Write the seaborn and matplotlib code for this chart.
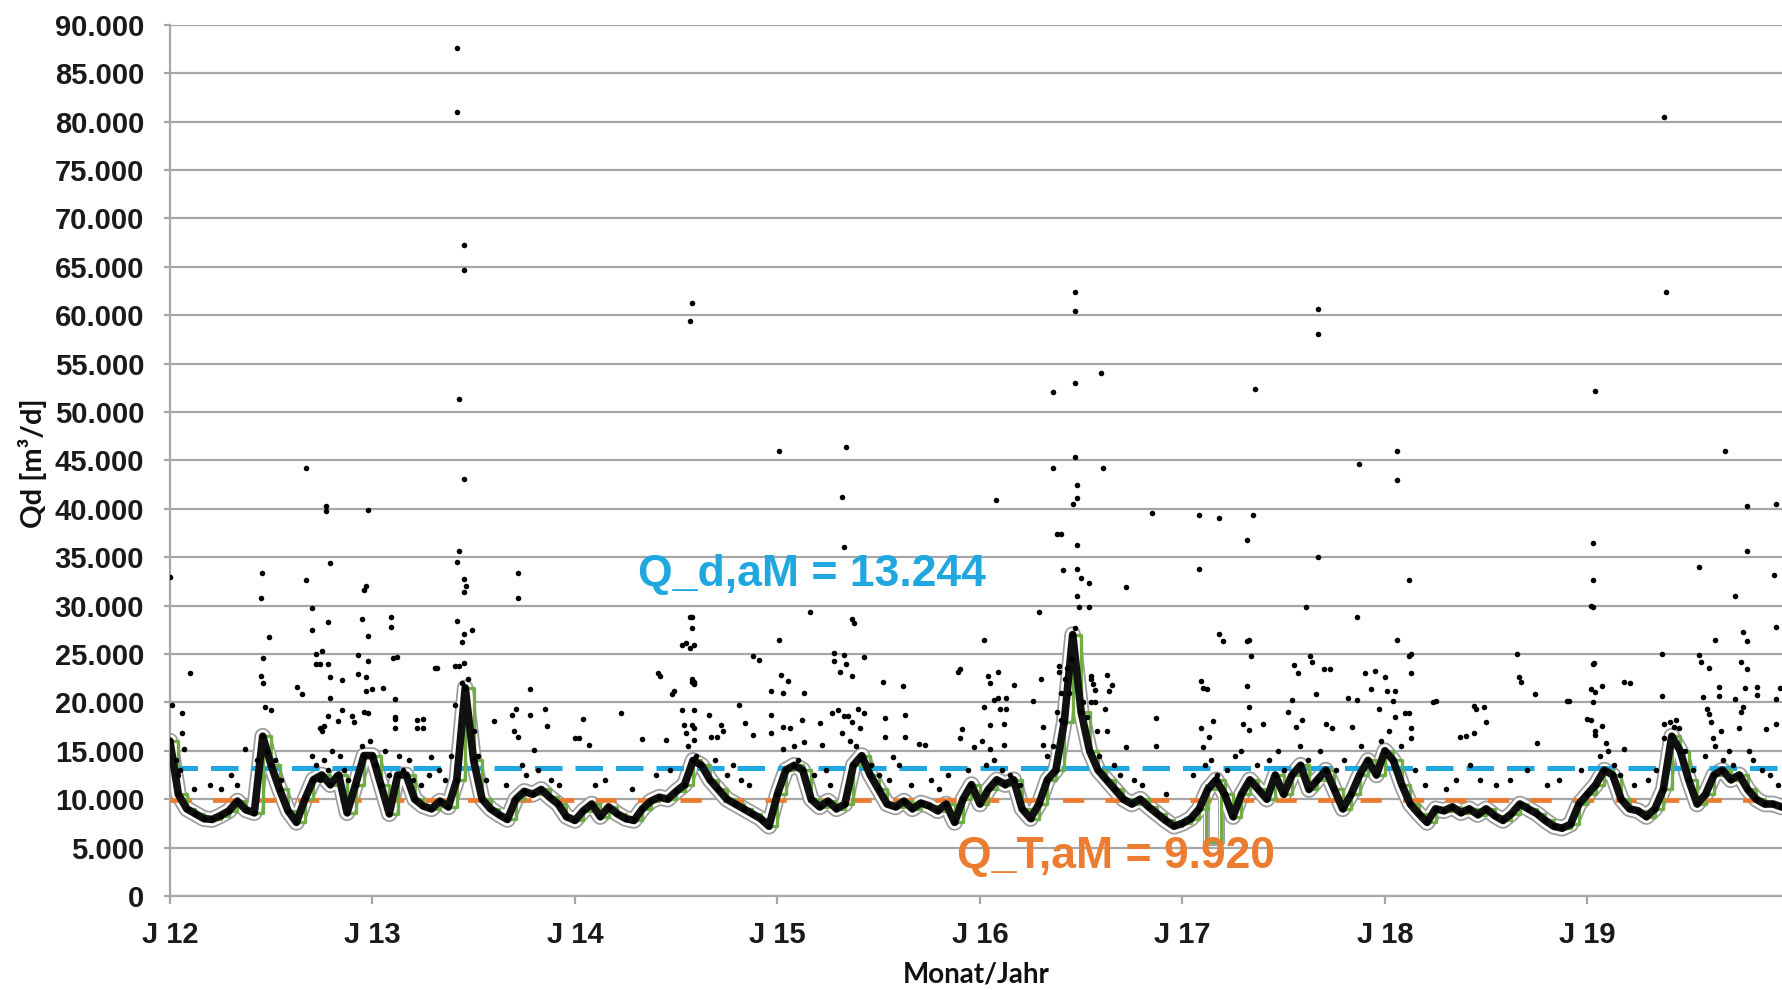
import numpy as np
import pandas as pd
import matplotlib
matplotlib.use('Agg')
import matplotlib.pyplot as plt
import seaborn as sns
from matplotlib.ticker import FuncFormatter, FixedLocator

# base flow band, read at half-month steps (1000 m3/d)
base_12 = [16.0, 10.5, 9.0, 8.5, 8.0, 7.9, 8.3, 8.8, 9.8, 8.9, 8.6, 16.5,
           13.5, 11.0, 8.8, 7.6, 10.0, 12.0, 12.5, 11.5, 12.5, 8.6, 11.5, 14.5]
base_13 = [14.5, 11.5, 8.5, 12.5, 12.5, 10.0, 9.3, 9.0, 9.8, 9.2, 12.0, 21.5,
           14.0, 10.0, 9.0, 8.4, 7.9, 10.0, 10.8, 10.5, 11.0, 10.2, 9.5, 8.2]
base_14 = [7.8, 8.8, 9.5, 8.2, 9.2, 8.5, 8.0, 7.8, 9.0, 9.8, 10.2, 10.0,
           10.8, 11.5, 14.0, 13.5, 12.0, 11.0, 10.0, 9.5, 9.0, 8.5, 8.0, 7.2]
base_15 = [10.5, 13.0, 13.5, 13.0, 10.0, 9.2, 9.8, 9.0, 9.5, 13.5, 14.5, 12.5,
           11.0, 9.5, 9.2, 9.8, 9.0, 9.6, 9.3, 8.8, 9.5, 7.6, 10.0, 11.5]
base_16 = [9.5, 11.0, 12.0, 11.5, 12.0, 9.0, 8.0, 9.5, 12.0, 13.0, 18.0, 27.0,
           19.0, 15.0, 13.0, 12.0, 11.0, 10.0, 9.5, 10.0, 9.2, 8.5, 7.8, 7.2]
base_17 = [7.5, 8.0, 9.0, 11.0, 12.0, 10.5, 8.2, 10.5, 12.0, 11.0, 10.0, 12.5,
           10.5, 12.5, 13.5, 11.0, 12.0, 13.0, 11.0, 9.0, 10.5, 12.5, 14.0, 12.5]
base_18 = [15.0, 14.0, 11.5, 9.5, 8.5, 7.6, 9.0, 8.8, 9.2, 8.6, 9.0, 8.4,
           9.0, 8.3, 7.8, 8.5, 9.5, 9.0, 8.5, 7.8, 7.2, 7.0, 7.4, 9.5]
base_19 = [10.5, 11.5, 13.0, 12.5, 10.0, 9.0, 8.8, 8.2, 9.0, 11.0, 16.5, 15.0,
           12.0, 9.5, 10.5, 12.5, 13.0, 12.0, 12.5, 11.0, 10.0, 9.5, 9.5, 9.2]

# green step line drop in early 2017
dip_years = [2017.115, 2017.115, 2017.19, 2017.19]
dip_k = [11.5, 5.6, 5.6, 11.5]

# single days above the band (decimal year, 1000 m3/d)
out_12 = [(2012.00, 33.0), (2012.01, 19.7), (2012.06, 18.9), (2012.06, 16.8), (2012.07, 15.2),
          (2012.10, 23.0), (2012.37, 15.2), (2012.45, 30.8), (2012.457, 33.4), (2012.46, 24.6),
          (2012.45, 22.7), (2012.46, 22.0), (2012.49, 26.7), (2012.47, 19.5), (2012.50, 19.2),
          (2012.63, 21.6), (2012.65, 20.9), (2012.67, 32.6), (2012.67, 44.2), (2012.70, 29.7),
          (2012.70, 27.5), (2012.72, 25.0), (2012.72, 24.0), (2012.74, 24.0), (2012.75, 25.3),
          (2012.77, 40.3), (2012.77, 39.8), (2012.79, 34.4), (2012.78, 28.3), (2012.78, 24.0),
          (2012.79, 22.6), (2012.79, 20.4), (2012.85, 22.3), (2012.74, 17.3), (2012.75, 17.0),
          (2012.76, 17.6), (2012.78, 18.6), (2012.83, 18.1), (2012.85, 19.2), (2012.90, 18.6),
          (2012.91, 18.0), (2012.93, 24.9), (2012.93, 22.9), (2012.95, 28.6), (2012.96, 31.6),
          (2012.97, 32.0), (2012.98, 39.9), (2012.98, 26.9), (2012.98, 24.3), (2012.97, 22.6),
          (2012.97, 21.2), (2012.98, 18.9), (2013.00, 21.4), (2012.96, 19.0)]
out_13 = [(2013.05, 21.5), (2013.09, 28.8), (2013.09, 27.8), (2013.10, 24.6), (2013.11, 20.3),
          (2013.11, 18.5), (2013.12, 24.7), (2013.11, 18.3), (2013.11, 17.3), (2013.22, 18.2),
          (2013.22, 17.3), (2013.25, 18.3), (2013.25, 17.4), (2013.29, 14.4), (2013.31, 23.6),
          (2013.32, 23.5), (2013.41, 19.7), (2013.42, 87.6), (2013.42, 81.0), (2013.45, 67.2),
          (2013.45, 64.7), (2013.43, 51.3), (2013.45, 43.1), (2013.43, 35.6), (2013.42, 34.5),
          (2013.45, 32.7), (2013.46, 32.0), (2013.45, 31.4), (2013.42, 28.4), (2013.45, 27.1),
          (2013.44, 26.2), (2013.49, 27.5), (2013.41, 23.8), (2013.43, 23.8), (2013.45, 24.1),
          (2013.47, 22.4), (2013.44, 22.0), (2013.60, 18.1), (2013.69, 18.7), (2013.71, 19.3),
          (2013.70, 17.0), (2013.72, 16.4), (2013.72, 33.4), (2013.72, 30.8), (2013.78, 21.4),
          (2013.78, 18.7), (2013.80, 15.1), (2013.85, 19.3), (2013.86, 17.6), (2014.00, 16.3)]
out_14 = [(2014.04, 18.3), (2014.02, 16.3), (2014.07, 15.6), (2014.23, 18.9), (2014.33, 16.2),
          (2014.41, 23.0), (2014.45, 16.1), (2014.49, 21.2), (2014.42, 22.7), (2014.48, 20.9),
          (2014.53, 25.9), (2014.55, 26.1), (2014.57, 28.8), (2014.58, 28.8), (2014.58, 27.7),
          (2014.57, 25.6), (2014.59, 25.9), (2014.59, 21.9), (2014.58, 22.1), (2014.58, 22.4),
          (2014.59, 22.1), (2014.58, 61.3), (2014.57, 59.4), (2014.53, 19.2), (2014.59, 19.2),
          (2014.54, 17.7), (2014.58, 17.7), (2014.59, 17.4), (2014.55, 16.8), (2014.59, 16.1),
          (2014.66, 18.7), (2014.72, 17.7), (2014.73, 17.0), (2014.67, 16.4), (2014.70, 16.4),
          (2014.81, 19.7), (2014.84, 17.9), (2014.88, 24.8), (2014.91, 24.4), (2014.88, 16.6),
          (2014.97, 21.2), (2015.01, 26.4), (2015.01, 46.0), (2015.02, 22.8), (2015.05, 22.2),
          (2015.03, 21.0), (2014.97, 18.7), (2014.97, 16.8), (2015.03, 17.5), (2015.06, 17.3),
          (2015.03, 15.2)]
out_15 = [(2015.13, 21.0), (2015.12, 18.2), (2015.13, 15.9), (2015.16, 29.3), (2015.21, 17.9),
          (2015.22, 15.6), (2015.28, 25.1), (2015.28, 24.3), (2015.32, 41.2), (2015.33, 36.1),
          (2015.34, 46.4), (2015.37, 28.6), (2015.38, 28.2), (2015.33, 24.9), (2015.34, 24.0),
          (2015.37, 22.7), (2015.31, 23.1), (2015.27, 18.9), (2015.30, 19.2), (2015.33, 18.6),
          (2015.35, 18.6), (2015.37, 18.0), (2015.32, 16.8), (2015.40, 19.3), (2015.41, 17.3),
          (2015.43, 24.7), (2015.43, 18.9), (2015.52, 22.1), (2015.53, 18.4), (2015.53, 16.4),
          (2015.62, 21.7), (2015.63, 18.7), (2015.63, 16.4), (2015.57, 14.4), (2015.70, 15.7),
          (2015.73, 15.6), (2015.89, 23.1), (2015.90, 23.4), (2015.91, 17.2), (2015.90, 16.3),
          (2015.97, 15.4)]
out_16 = [(2016.02, 26.4), (2016.08, 40.9), (2016.04, 22.7), (2016.05, 22.0), (2016.09, 23.1),
          (2016.09, 20.5), (2016.02, 19.5), (2016.07, 20.2), (2016.10, 19.3), (2016.13, 19.3),
          (2016.13, 20.5), (2016.12, 17.8), (2016.05, 17.7), (2016.01, 16.0), (2016.05, 15.2),
          (2016.12, 15.6), (2016.17, 21.8), (2016.26, 20.1), (2016.29, 29.3), (2016.30, 22.4),
          (2016.31, 17.5), (2016.31, 15.6), (2016.36, 52.1), (2016.36, 44.2), (2016.38, 37.4),
          (2016.40, 37.4), (2016.39, 23.8), (2016.39, 23.1), (2016.40, 21.0), (2016.38, 19.0),
          (2016.40, 18.2), (2016.41, 33.7), (2016.42, 22.4), (2016.43, 23.6), (2016.47, 62.4),
          (2016.47, 60.4), (2016.47, 53.0), (2016.47, 45.3), (2016.48, 42.5), (2016.48, 41.1),
          (2016.46, 40.5), (2016.48, 36.3), (2016.48, 33.8), (2016.48, 31.0), (2016.50, 32.8),
          (2016.49, 29.8), (2016.47, 27.7), (2016.46, 27.0), (2016.54, 32.3), (2016.54, 29.8),
          (2016.55, 22.7), (2016.55, 22.4), (2016.56, 21.9), (2016.55, 20.0), (2016.57, 20.0),
          (2016.58, 17.0), (2016.60, 54.0), (2016.61, 44.2), (2016.57, 21.3), (2016.63, 22.8),
          (2016.65, 21.8), (2016.64, 21.2), (2016.62, 19.3), (2016.63, 17.0), (2016.72, 31.9),
          (2016.72, 15.4), (2016.85, 39.6), (2016.87, 18.4), (2016.87, 15.5)]
out_17 = [(2017.08, 39.4), (2017.08, 33.8), (2017.09, 22.2), (2017.10, 21.5), (2017.09, 17.3),
          (2017.12, 21.4), (2017.13, 16.4), (2017.15, 18.1), (2017.10, 15.4), (2017.18, 39.0),
          (2017.18, 27.1), (2017.20, 26.3), (2017.32, 36.8), (2017.35, 39.4), (2017.36, 52.4),
          (2017.32, 26.3), (2017.33, 26.4), (2017.34, 24.8), (2017.32, 21.7), (2017.33, 19.5),
          (2017.30, 17.8), (2017.33, 17.1), (2017.40, 17.8), (2017.55, 23.9), (2017.57, 23.0),
          (2017.54, 20.2), (2017.52, 19.0), (2017.59, 18.2), (2017.56, 17.5), (2017.61, 29.8),
          (2017.63, 24.8), (2017.64, 24.2), (2017.67, 35.0), (2017.67, 60.6), (2017.67, 58.1),
          (2017.70, 23.4), (2017.73, 23.4), (2017.66, 20.9), (2017.71, 17.8), (2017.74, 17.4),
          (2017.82, 20.4), (2017.84, 17.5), (2017.86, 28.8), (2017.87, 44.6), (2017.86, 20.2),
          (2017.90, 23.0), (2017.93, 21.4), (2017.95, 23.2), (2017.97, 19.3)]
out_18 = [(2018.00, 22.6), (2018.01, 21.2), (2018.06, 46.0), (2018.06, 43.0), (2018.06, 26.4),
          (2018.05, 21.2), (2018.04, 20.1), (2018.05, 18.5), (2018.12, 32.6), (2018.12, 24.8),
          (2018.13, 25.0), (2018.13, 23.0), (2018.12, 18.9), (2018.10, 18.9), (2018.13, 17.4),
          (2018.13, 16.3), (2018.24, 20.0), (2018.25, 20.1), (2018.37, 16.4), (2018.44, 19.6),
          (2018.45, 19.3), (2018.49, 19.5), (2018.50, 18.0), (2018.44, 16.8), (2018.40, 16.5),
          (2018.65, 25.0), (2018.66, 22.6), (2018.67, 22.1), (2018.74, 20.9), (2018.75, 15.8),
          (2018.90, 20.1), (2018.91, 20.1)]
out_19 = [(2019.03, 36.5), (2019.04, 52.2), (2019.03, 32.6), (2019.02, 30.0), (2019.03, 29.9),
          (2019.03, 24.0), (2019.035, 24.1), (2019.02, 21.4), (2019.04, 21.1), (2019.03, 20.0),
          (2019.00, 18.3), (2019.02, 18.2), (2019.04, 17.0), (2019.04, 16.6), (2019.07, 21.7),
          (2019.07, 17.6), (2019.09, 15.8), (2019.18, 22.1), (2019.21, 22.0), (2019.18, 15.2),
          (2019.37, 25.0), (2019.38, 80.5), (2019.39, 62.4), (2019.37, 20.7), (2019.38, 17.8),
          (2019.44, 18.2), (2019.45, 17.3), (2019.38, 16.3), (2019.55, 34.0), (2019.55, 24.9),
          (2019.56, 24.2), (2019.57, 20.6), (2019.60, 23.5), (2019.61, 18.0), (2019.63, 26.4),
          (2019.65, 21.6), (2019.65, 20.7), (2019.66, 17.0), (2019.68, 46.0), (2019.59, 19.3),
          (2019.60, 18.8), (2019.62, 16.3), (2019.73, 31.0), (2019.73, 20.3), (2019.75, 17.3),
          (2019.78, 21.5), (2019.79, 35.6), (2019.79, 40.3), (2019.77, 27.3), (2019.79, 26.3),
          (2019.76, 24.2), (2019.79, 23.4), (2019.80, 15.0), (2019.84, 21.6), (2019.84, 20.8),
          (2019.77, 19.5), (2019.76, 19.0), (2019.88, 17.2), (2019.93, 40.5), (2019.92, 33.2),
          (2019.93, 27.8), (2019.93, 20.3), (2019.93, 17.8), (2019.95, 21.5)]

# days just above the band (decimal year, 1000 m3/d)
near_band = [(2012.03, 14.0), (2012.04, 12.5), (2012.05, 13.0), (2012.12, 11.0), (2012.20, 11.5),
             (2012.25, 11.0), (2012.30, 12.5), (2012.33, 11.5), (2012.43, 14.0), (2012.48, 15.0),
             (2012.52, 14.0), (2012.55, 12.0), (2012.70, 14.5), (2012.72, 13.5), (2012.74, 12.0),
             (2012.76, 14.0), (2012.78, 13.0), (2012.80, 15.0), (2012.82, 12.5), (2012.84, 14.5),
             (2012.86, 13.0), (2012.88, 12.0), (2012.95, 15.5), (2012.99, 16.0),
             (2013.02, 13.5), (2013.06, 15.0), (2013.08, 12.5), (2013.13, 14.5), (2013.15, 13.0),
             (2013.18, 14.0), (2013.20, 12.0), (2013.24, 11.5), (2013.28, 12.5), (2013.33, 13.0),
             (2013.36, 12.0), (2013.39, 14.5), (2013.50, 17.0), (2013.52, 14.5), (2013.56, 12.0),
             (2013.66, 11.5), (2013.74, 13.5), (2013.76, 12.5), (2013.82, 13.0), (2013.88, 12.0),
             (2013.92, 11.5),
             (2014.10, 11.5), (2014.15, 12.0), (2014.28, 11.0), (2014.40, 12.5), (2014.47, 13.0),
             (2014.56, 15.5), (2014.60, 14.5), (2014.62, 13.5), (2014.69, 14.0), (2014.75, 12.5),
             (2014.78, 13.5), (2014.82, 12.0), (2014.86, 11.5),
             (2015.08, 15.5), (2015.10, 14.0), (2015.18, 12.5), (2015.24, 13.0), (2015.26, 11.5),
             (2015.36, 16.0), (2015.39, 15.5), (2015.42, 14.0), (2015.46, 13.5), (2015.50, 12.5),
             (2015.55, 12.0), (2015.60, 13.5), (2015.66, 11.5), (2015.76, 12.0), (2015.80, 11.0),
             (2015.84, 12.5), (2015.94, 13.0),
             (2016.03, 13.5), (2016.07, 14.0), (2016.11, 13.0), (2016.15, 12.5), (2016.20, 11.5),
             (2016.33, 14.5), (2016.36, 15.5), (2016.44, 21.0), (2016.45, 24.5), (2016.51, 20.0),
             (2016.53, 18.5), (2016.59, 14.5), (2016.66, 13.5), (2016.69, 12.5), (2016.76, 12.0),
             (2016.80, 11.5), (2016.92, 10.5),
             (2017.05, 12.5), (2017.11, 13.5), (2017.14, 14.0), (2017.17, 12.5), (2017.22, 13.0),
             (2017.26, 14.5), (2017.29, 15.0), (2017.37, 13.5), (2017.43, 14.0), (2017.47, 15.0),
             (2017.50, 13.0), (2017.58, 15.5), (2017.62, 14.0), (2017.68, 15.0), (2017.76, 13.0),
             (2017.80, 14.0), (2017.88, 15.5), (2017.91, 14.0), (2017.98, 16.0),
             (2018.02, 17.0), (2018.08, 15.5), (2018.15, 13.0), (2018.20, 11.5), (2018.30, 11.0),
             (2018.35, 12.0), (2018.42, 13.5), (2018.47, 12.0), (2018.55, 11.5), (2018.62, 12.0),
             (2018.70, 13.0), (2018.80, 11.5), (2018.86, 12.0), (2018.97, 13.0),
             (2019.06, 14.5), (2019.10, 15.0), (2019.13, 13.5), (2019.16, 12.5), (2019.23, 11.5),
             (2019.30, 12.0), (2019.34, 13.0), (2019.41, 18.0), (2019.43, 17.5), (2019.48, 15.0),
             (2019.52, 13.0), (2019.58, 14.5), (2019.63, 15.5), (2019.67, 14.0), (2019.70, 15.0),
             (2019.72, 13.5), (2019.82, 14.0), (2019.86, 13.0), (2019.90, 12.5), (2019.94, 11.5)]

Q_D_AM = 13244
Q_T_AM = 9920
year_ticks = [2012, 2013, 2014, 2015, 2016, 2017, 2018, 2019]
year_labels = ['J 12', 'J 13', 'J 14', 'J 15', 'J 16', 'J 17', 'J 18', 'J 19']

BLUE = '#20A7DF'
ORANGE = '#EC7C30'
GREEN = '#70AD47'
GRID = '#A6A6A6'
INK = '#111111'

base_vals = base_12 + base_13 + base_14 + base_15 + base_16 + base_17 + base_18 + base_19
base = pd.DataFrame({'year': 2012 + np.arange(len(base_vals)) / 24,
                     'Qd': np.array(base_vals) * 1000})
outl = out_12 + out_13 + out_14 + out_15 + out_16 + out_17 + out_18 + out_19 + near_band
peaks = pd.DataFrame(outl, columns=['year', 'k'])
peaks['Qd'] = peaks['k'] * 1000
dip = pd.DataFrame({'year': dip_years, 'Qd': np.array(dip_k) * 1000})

sns.set_theme(style='white')
plt.rcParams['font.family'] = ['Liberation Sans', 'DejaVu Sans']

fig = plt.figure(figsize=(17.83, 9.9), dpi=100)
ax = fig.add_axes([0.0953, 0.095, 0.9047, 0.880])

# gray hull round the band
sns.lineplot(data=base, x='year', y='Qd', color='#9C9C9C', lw=12, estimator=None,
             sort=False, ax=ax, zorder=2)
sns.lineplot(data=base, x='year', y='Qd', color='white', lw=9.5, estimator=None,
             sort=False, ax=ax, zorder=2.1)
sns.lineplot(data=dip, x='year', y='Qd', color='#9C9C9C', lw=5, estimator=None,
             sort=False, ax=ax, zorder=2)
sns.lineplot(data=dip, x='year', y='Qd', color='white', lw=3, estimator=None,
             sort=False, ax=ax, zorder=2.1)

ax.axhline(Q_D_AM, color=BLUE, lw=3.6, ls=(0, (5.5, 2.6)), zorder=3)
ax.axhline(Q_T_AM, color=ORANGE, lw=3.4, ls=(0, (4.5, 4.5)), zorder=3)

sns.lineplot(data=base, x='year', y='Qd', color=GREEN, lw=2.4, estimator=None,
             sort=False, drawstyle='steps-post', ax=ax, zorder=3.5)
sns.lineplot(data=dip, x='year', y='Qd', color=GREEN, lw=2.2, estimator=None,
             sort=False, ax=ax, zorder=3.5)

sns.lineplot(data=base, x='year', y='Qd', color=INK, lw=5.5, estimator=None,
             sort=False, ax=ax, zorder=4)
sns.scatterplot(data=base, x='year', y='Qd', color='black', s=18, linewidth=0,
                ax=ax, zorder=5)
sns.scatterplot(data=peaks, x='year', y='Qd', color='black', s=16, linewidth=0,
                ax=ax, zorder=5)

ax.text(2015.17, 32000, 'Q_d,aM = 13.244', color=BLUE, fontsize=32, weight='bold',
        ha='center', va='baseline', zorder=6)
ax.text(2016.67, 2900, 'Q_T,aM = 9.920', color=ORANGE, fontsize=32, weight='bold',
        ha='center', va='baseline', zorder=6)

ax.set_xlim(2012, 2019.966)
ax.set_ylim(0, 90000)
ax.yaxis.set_major_locator(FixedLocator(np.arange(0, 90001, 5000)))
ax.yaxis.set_major_formatter(FuncFormatter(lambda v, p: f'{int(v):,}'.replace(',', '.')))
ax.set_xticks(year_ticks)
ax.set_xticklabels(year_labels)
ax.set_xlabel('')
ax.set_ylabel('')

ax.yaxis.grid(True, color=GRID, lw=1.6, zorder=0)
ax.xaxis.grid(False)
ax.set_axisbelow(True)
for side in ['top', 'right']:
    ax.spines[side].set_visible(False)
for side in ['left', 'bottom']:
    ax.spines[side].set_color(GRID)
    ax.spines[side].set_linewidth(1.6)

ax.tick_params(axis='y', which='major', left=True, length=4.5, width=1.6, color=GRID,
               pad=14, labelsize=21, labelcolor='#1a1a1a')
ax.tick_params(axis='x', which='major', bottom=True, length=6, width=1.6, color=GRID,
               pad=12, labelsize=21, labelcolor='#1a1a1a')
for lab in ax.get_xticklabels() + ax.get_yticklabels():
    lab.set_fontweight('bold')

fig.text(0.5477, 0.016, 'Monat/Jahr', ha='center', va='center', fontsize=20,
         weight='bold', family=['Lato', 'DejaVu Sans'], color='#111111')
fig.text(0.018, 0.532, 'Qd [m³/d]', ha='center', va='center', rotation=90, fontsize=21,
         weight='bold', family=['Lato', 'DejaVu Sans'], color='#111111')

fig.savefig('out.png', dpi=100)
